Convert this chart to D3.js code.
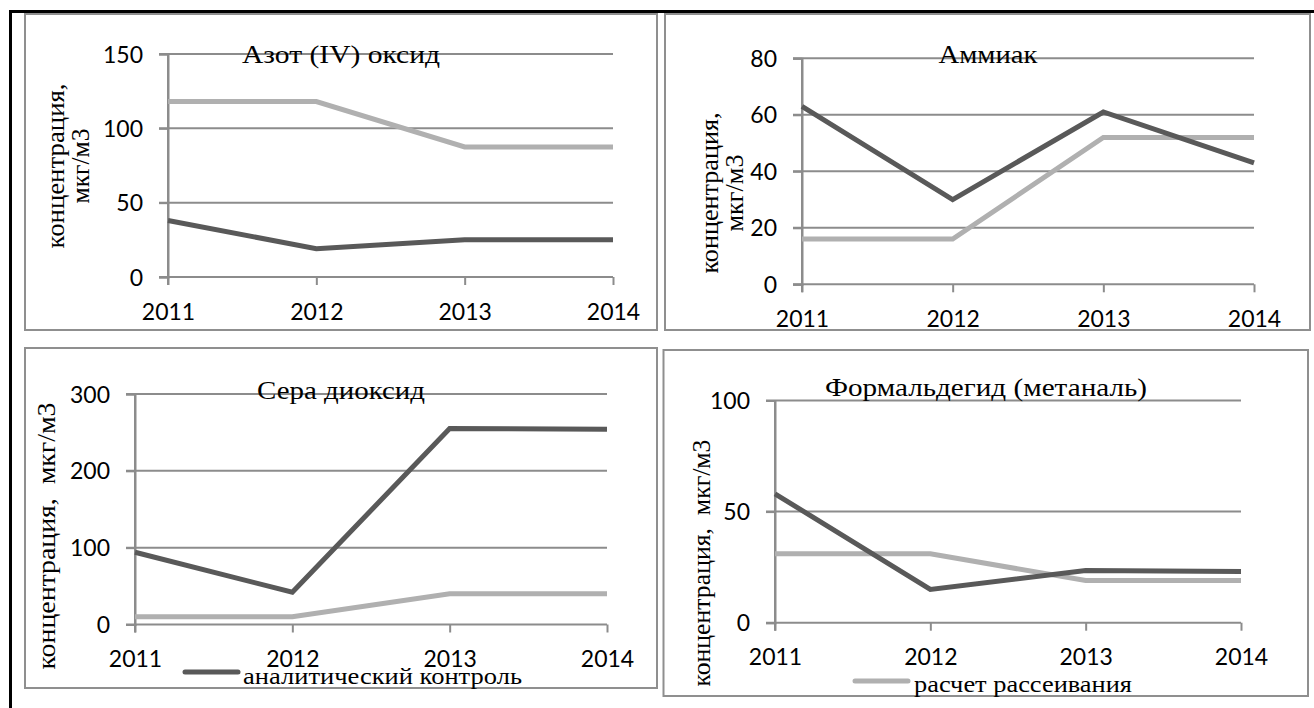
<!DOCTYPE html>
<html><head><meta charset="utf-8">
<script src="https://cdn.jsdelivr.net/npm/d3@7"></script>
<style>
html,body{margin:0;padding:0;background:#fff;}
svg{display:block;}
</style></head>
<body>
<svg id="chart" width="1314" height="708"></svg>
<script>
// ---- data ----
const years = ["2011", "2012", "2013", "2014"];
const seriesNames = ["аналитический контроль", "расчет рассеивания"];
const titles = ["Азот (IV) оксид", "Аммиак", "Сера диоксид", "Формальдегид (метаналь)"];
const no2Analytic = [38, 19, 25, 25];
const no2Dispersion = [118, 118, 87.5, 87.5];
const nh3Analytic = [63, 30, 61, 43];
const nh3Dispersion = [16, 16, 52, 52];
const so2Analytic = [94, 42, 255, 254];
const so2Dispersion = [10, 10, 40, 40];
const hchoAnalytic = [58, 15, 23.5, 23];
const hchoDispersion = [31, 31, 19, 19];
const yTicksNO2 = [0, 50, 100, 150];
const yTicksNH3 = [0, 20, 40, 60, 80];
const yTicksSO2 = [0, 100, 200, 300];
const yTicksHCHO = [0, 50, 100];
const yLabelTwoLines = ["концентрация,", "мкг/м3"];
const yLabelOneLine = "концентрация,  мкг/м3";

// ---- style ----
const DARK = "#595959", LIGHT = "#b0b0b0", GRID = "#8c8c8c", BOX = "#8f8f8f";
const NUM_FONT = "Lato, Calibri, 'Open Sans', sans-serif";
const SERIF = "'Liberation Serif', 'Times New Roman', serif";

const svg = d3.select("#chart");

// outer black frame (top + left)
svg.append("line").attr("x1", 9).attr("x2", 1314).attr("y1", 11.5).attr("y2", 11.5)
  .attr("stroke", "#000").attr("stroke-width", 3);
svg.append("line").attr("x1", 10.5).attr("x2", 10.5).attr("y1", 10).attr("y2", 708)
  .attr("stroke", "#000").attr("stroke-width", 3);

const panels = [
  { box: [25, 14, 657, 330], x0: 168, x1: 613, yTop: 54, yBot: 277, ticks: yTicksNO2,
    a: no2Analytic, d: no2Dispersion, title: titles[0], titleX: 341, titleY: 63, titleLen: 198,
    ylab: { lines: yLabelTwoLines, xs: [64, 89], cy: 166, lens: [165, 75] } },
  { box: [665, 14, 1310, 330], x0: 802, x1: 1254, yTop: 58.3, yBot: 284.3, ticks: yTicksNH3,
    a: nh3Analytic, d: nh3Dispersion, title: titles[1], titleX: 988, titleY: 63, titleLen: 99,
    ylab: { lines: yLabelTwoLines, xs: [718, 743], cy: 193, lens: [161, 77] } },
  { box: [25, 348, 657, 688], x0: 135, x1: 607, yTop: 394, yBot: 624.5, ticks: yTicksSO2,
    a: so2Analytic, d: so2Dispersion, title: titles[2], titleX: 341, titleY: 399, titleLen: 168,
    ylab: { lines: [yLabelOneLine], xs: [55], cy: 536, lens: [267] },
    legend: { idx: 0, lx0: 185, lx1: 238, ly: 672, tx: 243, ty: 684, len: 279 } },
  { box: [663.5, 350, 1308, 696], x0: 775, x1: 1241, yTop: 400.5, yBot: 622.7, ticks: yTicksHCHO,
    a: hchoAnalytic, d: hchoDispersion, title: titles[3], titleX: 986, titleY: 396, titleLen: 322,
    ylab: { lines: [yLabelOneLine], xs: [710], cy: 563, lens: [247] },
    legend: { idx: 1, lx0: 855, lx1: 908, ly: 681, tx: 914, ty: 692, len: 218 } }
];

panels.forEach(p => {
  const g = svg.append("g");
  const [bx0, by0, bx1, by1] = p.box;
  g.append("rect").attr("x", bx0).attr("y", by0).attr("width", bx1 - bx0).attr("height", by1 - by0)
    .attr("fill", "#fff").attr("stroke", BOX).attr("stroke-width", 2);

  const x = d3.scalePoint().domain(years).range([p.x0, p.x1]);
  const y = d3.scaleLinear().domain([0, d3.max(p.ticks)]).range([p.yBot, p.yTop]);

  // gridlines
  g.append("g").selectAll("line").data(p.ticks).join("line")
    .attr("x1", p.x0 - 9).attr("x2", p.x1)
    .attr("y1", d => y(d)).attr("y2", d => y(d))
    .attr("stroke", GRID).attr("stroke-width", 2);

  // y axis
  const ya = g.append("g").attr("transform", `translate(${p.x0},0)`)
    .call(d3.axisLeft(y).tickValues(p.ticks).tickSize(9).tickPadding(16).tickFormat(d3.format("d")));
  ya.select(".domain").attr("stroke", GRID).attr("stroke-width", 2);
  ya.selectAll(".tick line").attr("stroke", GRID).attr("stroke-width", 2);
  ya.selectAll(".tick text").attr("font-family", NUM_FONT).attr("font-size", 23)
    .attr("fill", "#000").attr("dy", "0.35em");

  // x axis
  const xa = g.append("g").attr("transform", `translate(0,${p.yBot})`)
    .call(d3.axisBottom(x).tickSize(8).tickPadding(0));
  xa.select(".domain").remove();
  xa.selectAll(".tick line").attr("stroke", GRID).attr("stroke-width", 2);
  xa.selectAll(".tick text").attr("font-family", NUM_FONT).attr("font-size", 23)
    .attr("fill", "#000").attr("y", 42.5).attr("dy", 0);

  // vertical axis line over gridlines
  g.append("line").attr("x1", p.x0).attr("x2", p.x0).attr("y1", p.yTop).attr("y2", p.yBot + 8)
    .attr("stroke", GRID).attr("stroke-width", 2);

  // series
  const line = d3.line().x((d, i) => x(years[i])).y(d => y(d));
  g.append("path").datum(p.d).attr("d", line).attr("fill", "none")
    .attr("stroke", LIGHT).attr("stroke-width", 5);
  g.append("path").datum(p.a).attr("d", line).attr("fill", "none")
    .attr("stroke", DARK).attr("stroke-width", 5);

  // title
  g.append("text").attr("x", p.titleX).attr("y", p.titleY).attr("text-anchor", "middle")
    .attr("font-family", SERIF).attr("font-size", 25).attr("fill", "#000")
    .attr("textLength", p.titleLen).attr("lengthAdjust", "spacingAndGlyphs").text(p.title);

  // y label
  p.ylab.lines.forEach((t, i) => {
    g.append("text").attr("transform", `translate(${p.ylab.xs[i]},${p.ylab.cy}) rotate(-90)`)
      .attr("text-anchor", "middle").attr("font-family", SERIF).attr("font-size", 25)
      .attr("fill", "#000").style("white-space", "pre")
      .attr("textLength", p.ylab.lens[i]).attr("lengthAdjust", "spacingAndGlyphs").text(t);
  });

  // legend
  if (p.legend) {
    const L = p.legend;
    g.append("line").attr("x1", L.lx0).attr("x2", L.lx1).attr("y1", L.ly).attr("y2", L.ly)
      .attr("stroke", L.idx === 0 ? DARK : LIGHT).attr("stroke-width", 5).attr("stroke-linecap", "round");
    g.append("text").attr("x", L.tx).attr("y", L.ty).attr("font-family", SERIF).attr("font-size", 24)
      .attr("fill", "#000").attr("textLength", L.len).attr("lengthAdjust", "spacingAndGlyphs")
      .text(seriesNames[L.idx]);
  }
});
</script>
</body></html>
